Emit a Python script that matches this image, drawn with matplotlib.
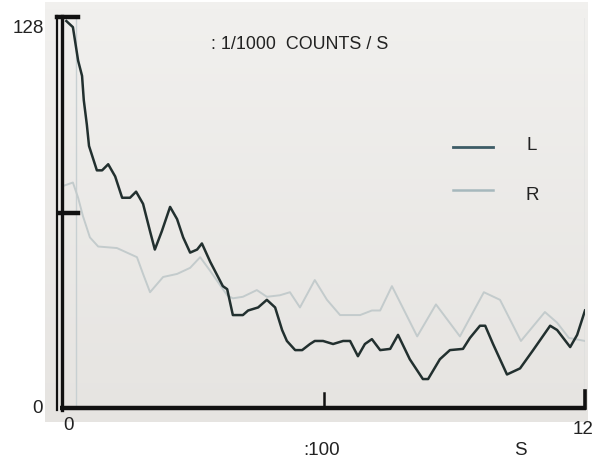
import numpy as np
import matplotlib
matplotlib.use("Agg")
import matplotlib.pyplot as plt
from matplotlib.colors import LinearSegmentedColormap

plt.rcParams["font.family"] = ["Liberation Sans", "DejaVu Sans"]

# L series (dark trace), time in units of 1/100 s, counts in 1/1000 counts/s
L_X = [0.10, 0.25, 0.37, 0.46, 0.50, 0.57, 0.62, 0.71, 0.80, 0.92, 1.06, 1.22,
       1.38, 1.56, 1.70, 1.86, 2.02, 2.13, 2.29, 2.48, 2.64, 2.78, 2.94, 3.10,
       3.21, 3.40, 3.69, 3.79, 3.92, 4.15, 4.27, 4.50, 4.70, 4.89, 5.05, 5.16,
       5.35, 5.51, 5.69, 5.80, 5.99, 6.22, 6.45, 6.61, 6.79, 6.95, 7.11, 7.30,
       7.53, 7.71, 7.98, 8.28, 8.40, 8.67, 8.90, 9.20, 9.36, 9.59, 9.71, 9.89,
       10.05, 10.21, 10.51, 10.81, 11.20, 11.36, 11.66, 11.82, 12.00]
L_Y = [127, 125, 114, 109, 101, 93, 86, 82, 78, 78, 80, 76,
       69, 69, 71, 67, 58, 52, 58, 66, 62, 56, 51, 52,
       54, 48, 40, 39, 30.5, 30.5, 32, 33, 35.5, 33, 25.6, 22,
       19, 19, 21, 22, 22, 21, 22, 22, 17, 21, 22.6, 19,
       19.4, 24, 16, 9.5, 9.5, 16, 19, 19.4, 23, 27, 27, 21,
       16, 11, 13, 19, 27, 25.6, 20, 24, 32]

# R series (light trace)
R_X = [0.05, 0.25, 0.37, 0.48, 0.64, 0.83, 1.26, 1.49, 1.72, 1.86, 2.02, 2.32,
       2.64, 2.94, 3.17, 3.40, 3.79, 3.92, 4.15, 4.47, 4.70, 5.00, 5.23, 5.46,
       5.80, 6.08, 6.38, 6.84, 7.11, 7.30, 7.57, 8.15, 8.58, 9.13, 9.68, 10.05,
       10.53, 11.08, 11.36, 11.63, 12.00]
R_Y = [73, 74, 69, 63, 56, 53, 52.5, 51, 49.5, 44, 38, 43,
       44, 46, 49.5, 45, 37, 36, 36.5, 38.7, 36.5, 37, 38, 33,
       42, 35.5, 30.5, 30.5, 32, 32, 40, 23.5, 34, 23.5, 38, 35.5,
       22, 31.5, 28, 23, 22]

L_COLOR = "#22302f"
R_COLOR = "#c3cbcc"
AXIS_COLOR = "#111111"

fig = plt.figure(figsize=(5.98, 4.65), dpi=100)
fig.patch.set_facecolor("white")

# scanned-paper background panel, slightly lighter at the top
bg = fig.add_axes([45 / 598, 1 - 422 / 465, 543 / 598, 420 / 465])
bg.set_zorder(0)
paper = LinearSegmentedColormap.from_list("paper", ["#f1f0ee", "#e6e4e1"])
bg.imshow(np.linspace(0, 1, 64).reshape(-1, 1), aspect="auto", cmap=paper,
          extent=(0, 1, 0, 1), origin="upper")
bg.set_axis_off()

ax = fig.add_axes([62 / 598, 1 - 408 / 465, 523 / 598, 390 / 465])
ax.set_zorder(5)
ax.set_facecolor("none")
ax.set_xlim(0, 12)
ax.set_ylim(0, 128)
for sp in ax.spines.values():
    sp.set_visible(False)
ax.set_xticks([])
ax.set_yticks([])

# faint guide lines
ax.axvline(0.32, color="#c8d0d2", lw=1.0, zorder=1)
ax.axvline(12.0, color="#c8d0d2", lw=1.0, zorder=1)

# data traces
ax.plot(R_X, R_Y, color=R_COLOR, lw=1.4, zorder=2)
ax.plot(L_X, L_Y, color=L_COLOR, lw=1.8, zorder=3)

# hand-drawn style axes (double left spine, heavy bottom)
ax.plot([-0.11, -0.11], [-0.5, 128.5], color=AXIS_COLOR, lw=1.6, clip_on=False, zorder=4)
ax.plot([0.0, 0.0], [-0.5, 128.5], color=AXIS_COLOR, lw=2.4, clip_on=False, zorder=4)
ax.plot([-0.05, 12.02], [0, 0], color=AXIS_COLOR, lw=3.2, clip_on=False,
        solid_capstyle="butt", zorder=4)
ax.plot([-0.11, 0.37], [128.3, 128.3], color=AXIS_COLOR, lw=3.2, clip_on=False, zorder=4)
ax.plot([-0.05, 0.37], [64, 64], color=AXIS_COLOR, lw=3.2, clip_on=False, zorder=4)
ax.plot([6.0, 6.0], [0, 5], color=AXIS_COLOR, lw=1.8, clip_on=False, zorder=4)
ax.plot([12.0, 12.0], [0, 5.5], color=AXIS_COLOR, lw=2.6, clip_on=False, zorder=4)

# tick labels
lab = dict(fontsize=13.5, color="#222222")
ax.text(-0.035, 0.974, "128", transform=ax.transAxes, ha="right", va="center", **lab)
ax.text(-0.036, -0.001, "0", transform=ax.transAxes, ha="right", va="center", **lab)
ax.text(0.0115, -0.044, "0", transform=ax.transAxes, ha="center", va="center", **lab)
ax.text(0.996, -0.054, "12", transform=ax.transAxes, ha="center", va="center", **lab)
ax.text(0.497, -0.110, ":100", transform=ax.transAxes, ha="center", va="center", **lab)
ax.text(0.876, -0.108, "S", transform=ax.transAxes, ha="center", va="center", **lab)

# unit caption
ax.text(0.454, 0.931, ": 1/1000  COUNTS / S", transform=ax.transAxes,
        ha="center", va="center", fontsize=12.9, color="#222222")

# key
ax.plot([0.748, 0.824], [0.669, 0.669], transform=ax.transAxes, color="#3d5c66", lw=2.0)
ax.plot([0.748, 0.824], [0.559, 0.559], transform=ax.transAxes, color="#a6b8bd", lw=1.8)
ax.text(0.899, 0.674, "L", transform=ax.transAxes, ha="center", va="center", **lab)
ax.text(0.899, 0.546, "R", transform=ax.transAxes, ha="center", va="center", **lab)

fig.savefig("out.png", dpi=100)
